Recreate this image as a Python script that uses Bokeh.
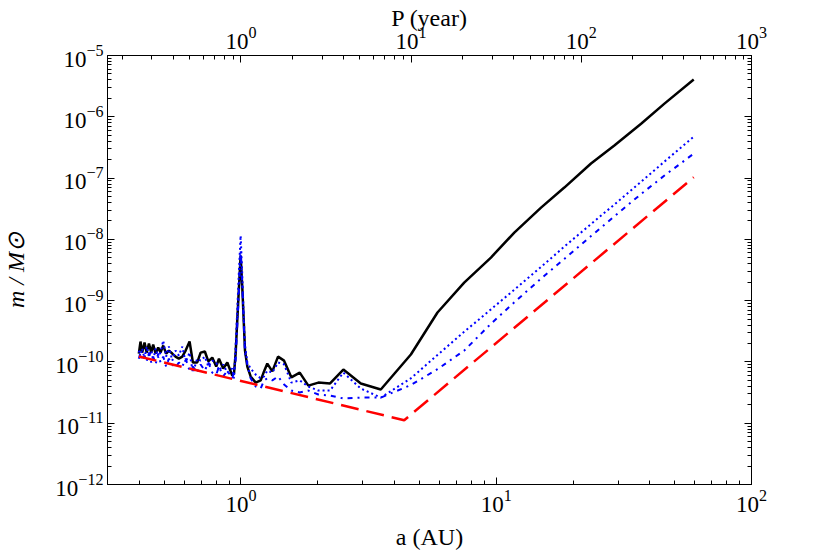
from bokeh.plotting import figure
from bokeh.models import LogAxis, Range1d, LogScale, FixedTicker, CustomJSTickFormatter
from bokeh.embed import file_html
from bokeh.resources import INLINE

# ---- data ----
a_au = [0.398, 0.404, 0.410, 0.419, 0.427, 0.436, 0.445, 0.453, 0.463, 0.474,
        0.484, 0.496, 0.509, 0.522, 0.538, 0.554, 0.571, 0.589, 0.607, 0.629,
        0.648, 0.674, 0.695, 0.722, 0.745, 0.772, 0.800, 0.820, 0.852, 0.884,
        0.924, 0.939, 0.953, 0.967, 0.982, 0.997, 1.012, 1.025, 1.037, 1.059,
        1.091, 1.142, 1.195, 1.231, 1.268, 1.327, 1.397, 1.475, 1.575, 1.699,
        1.836, 2.010, 2.234, 2.518, 2.947, 3.530, 4.630, 5.886, 7.489, 9.533,
        11.77, 14.98, 18.48, 23.51, 29.02, 36.94, 45.60, 59.39]

m_solid = [1.37e-10, 2.15e-10, 1.42e-10, 2.07e-10, 1.42e-10, 2.00e-10, 1.42e-10, 1.92e-10, 1.37e-10, 1.72e-10,
           1.42e-10, 1.85e-10, 1.37e-10, 1.53e-10, 1.37e-10, 1.22e-10, 1.13e-10, 1.22e-10, 1.53e-10, 2.15e-10,
           9.8e-11, 9.8e-11, 1.42e-10, 1.48e-10, 1.02e-10, 1.18e-10, 8.4e-11, 1.13e-10, 7.8e-11, 9.8e-11,
           6.0e-11, 6.5e-11, 1.37e-10, 4.73e-10, 1.64e-9, 5.45e-9, 1.64e-9, 4.73e-10, 1.53e-10, 8.4e-11,
           5.8e-11, 4.6e-11, 5.0e-11, 7.0e-11, 9.4e-11, 7.0e-11, 1.22e-10, 1.05e-10, 5.6e-11, 6.7e-11,
           4.1e-11, 4.6e-11, 4.45e-11, 7.5e-11, 4.45e-11, 3.55e-11, 1.32e-10, 6.4e-10, 1.97e-9, 5.05e-9,
           1.29e-8, 3.3e-8, 7.0e-8, 1.73e-7, 3.39e-7, 7.7e-7, 1.64e-6, 4.05e-6]

m_dotted = [1.53e-10, 1.22e-10, 1.66e-10, 1.13e-10, 1.78e-10, 1.22e-10, 1.53e-10, 1.05e-10, 1.66e-10, 1.18e-10,
            1.42e-10, 2.23e-10, 1.22e-10, 1.78e-10, 1.05e-10, 1.53e-10, 1.27e-10, 1.78e-10, 9.8e-11, 1.42e-10,
            6.7e-11, 1.13e-10, 1.05e-10, 1.22e-10, 8.4e-11, 1.05e-10, 9.8e-11, 7.2e-11, 9.1e-11, 6.7e-11,
            7.8e-11, 5.4e-11, 1.85e-10, 6.9e-10, 3.10e-9, 1.15e-8, 2.56e-9, 5.7e-10, 1.85e-10, 9.8e-11,
            7.8e-11, 6.2e-11, 5.4e-11, 5.8e-11, 7.2e-11, 6.7e-11, 9.8e-11, 9.1e-11, 4.6e-11, 5.0e-11,
            3.97e-11, 3.41e-11, 3.41e-11, 6.7e-11, 3.68e-11, 2.62e-11, 5.4e-11, 1.30e-10, 3.1e-10, 7.2e-10,
            1.51e-9, 3.55e-9, 7.6e-9, 1.78e-8, 3.7e-8, 8.7e-8, 1.86e-7, 4.75e-7]

m_dashdot = [1.13e-10, 1.42e-10, 1.05e-10, 1.27e-10, 1.02e-10, 1.42e-10, 9.8e-11, 1.22e-10, 9.1e-11, 1.37e-10,
             9.8e-11, 1.22e-10, 8.4e-11, 1.13e-10, 9.1e-11, 8.1e-11, 9.8e-11, 8.4e-11, 1.13e-10, 7.2e-11,
             8.4e-11, 6.7e-11, 9.1e-11, 7.2e-11, 9.8e-11, 6.7e-11, 6.2e-11, 8.4e-11, 5.8e-11, 7.2e-11,
             5.4e-11, 6.7e-11, 1.05e-10, 3.93e-10, 1.46e-9, 6.56e-9, 1.76e-9, 4.39e-10, 1.42e-10, 9.1e-11,
             5.4e-11, 3.97e-11, 3.68e-11, 5.0e-11, 5.4e-11, 5.0e-11, 5.8e-11, 4.3e-11, 3.41e-11, 3.17e-11,
             3.41e-11, 2.94e-11, 2.83e-11, 2.53e-11, 2.62e-11, 2.62e-11, 4.2e-11, 7.6e-11, 1.53e-10, 4.2e-10,
             9.4e-10, 2.29e-9, 4.8e-9, 1.13e-8, 2.38e-8, 5.5e-8, 1.10e-7, 2.5e-7]

a_red = [0.398, 4.36, 59.39]
m_red = [1.23e-10, 1.12e-11, 1.03e-7]

x_ticks = [1, 10, 100]
p_ticks = [1, 10, 100, 1000]
y_ticks = [1e-12, 1e-11, 1e-10, 1e-9, 1e-8, 1e-7, 1e-6, 1e-5]
a_min, a_max = 0.3, 100.0
m_min, m_max = 1e-12, 1e-5


def minors(lo_exp, hi_exp):
    return [k * 10.0 ** e for e in range(lo_exp, hi_exp) for k in range(2, 10)]


FONT = "Liberation Serif"
TICK_SIZE = "23px"
LABEL_SIZE = "24px"

p = figure(frame_width=644, frame_height=429,
           x_axis_type="log", y_axis_type="log",
           x_range=Range1d(a_min, a_max), y_range=Range1d(m_min, m_max),
           output_backend="svg", toolbar_location=None,
           min_border_left=101, min_border_right=75,
           min_border_top=55, min_border_bottom=66,
           background_fill_color="white", border_fill_color="white",
           outline_line_color="black", outline_line_width=1)
p.grid.visible = False

p.extra_x_ranges = {"P": Range1d(a_min ** 1.5, a_max ** 1.5)}
p.extra_x_scales = {"P": LogScale()}


def style(ax):
    ax.major_tick_in = 7
    ax.major_tick_out = 0
    ax.minor_tick_in = 4
    ax.minor_tick_out = 0
    ax.axis_line_color = "black"
    ax.major_tick_line_color = "black"
    ax.minor_tick_line_color = "black"
    ax.major_label_text_font = FONT
    ax.major_label_text_font_size = TICK_SIZE
    ax.major_label_text_color = "black"
    ax.axis_label_text_font = FONT
    ax.axis_label_text_font_size = LABEL_SIZE
    ax.axis_label_text_font_style = "normal"
    ax.axis_label_text_color = "black"


xa = p.xaxis[0]
xa.ticker = FixedTicker(ticks=x_ticks, minor_ticks=minors(-1, 2))
xa.axis_label = "a (AU)"
style(xa)
xa.major_label_standoff = 5
xa.axis_label_standoff = 9

ya = p.yaxis[0]
ya.ticker = FixedTicker(ticks=y_ticks, minor_ticks=minors(-12, -5))
ya.axis_label = "m / M⊙"
style(ya)
ya.axis_label_text_font_style = "italic"
ya.major_label_standoff = 4
ya.axis_label_standoff = 23

top = LogAxis(x_range_name="P", axis_label="P (year)",
              ticker=FixedTicker(ticks=p_ticks, minor_ticks=minors(-1, 3)))
style(top)
top.major_label_standoff = 7
top.axis_label_standoff = -7
p.add_layout(top, "above")

right = LogAxis(ticker=FixedTicker(ticks=y_ticks, minor_ticks=minors(-12, -5)),
                formatter=CustomJSTickFormatter(code="return ''"))
style(right)
right.major_label_standoff = 0
p.add_layout(right, "right")

p.line(a_au, m_solid, line_color="black", line_width=2.5)
p.line(a_au, m_dotted, line_color="blue", line_width=2, line_dash="2 3")
p.line(a_au, m_dashdot, line_color="blue", line_width=2, line_dash="5 5 2 5")
p.line(a_red, m_red, line_color="red", line_width=2.5, line_dash="18 8")

open("out.html", "w").write(file_html(p, INLINE))
